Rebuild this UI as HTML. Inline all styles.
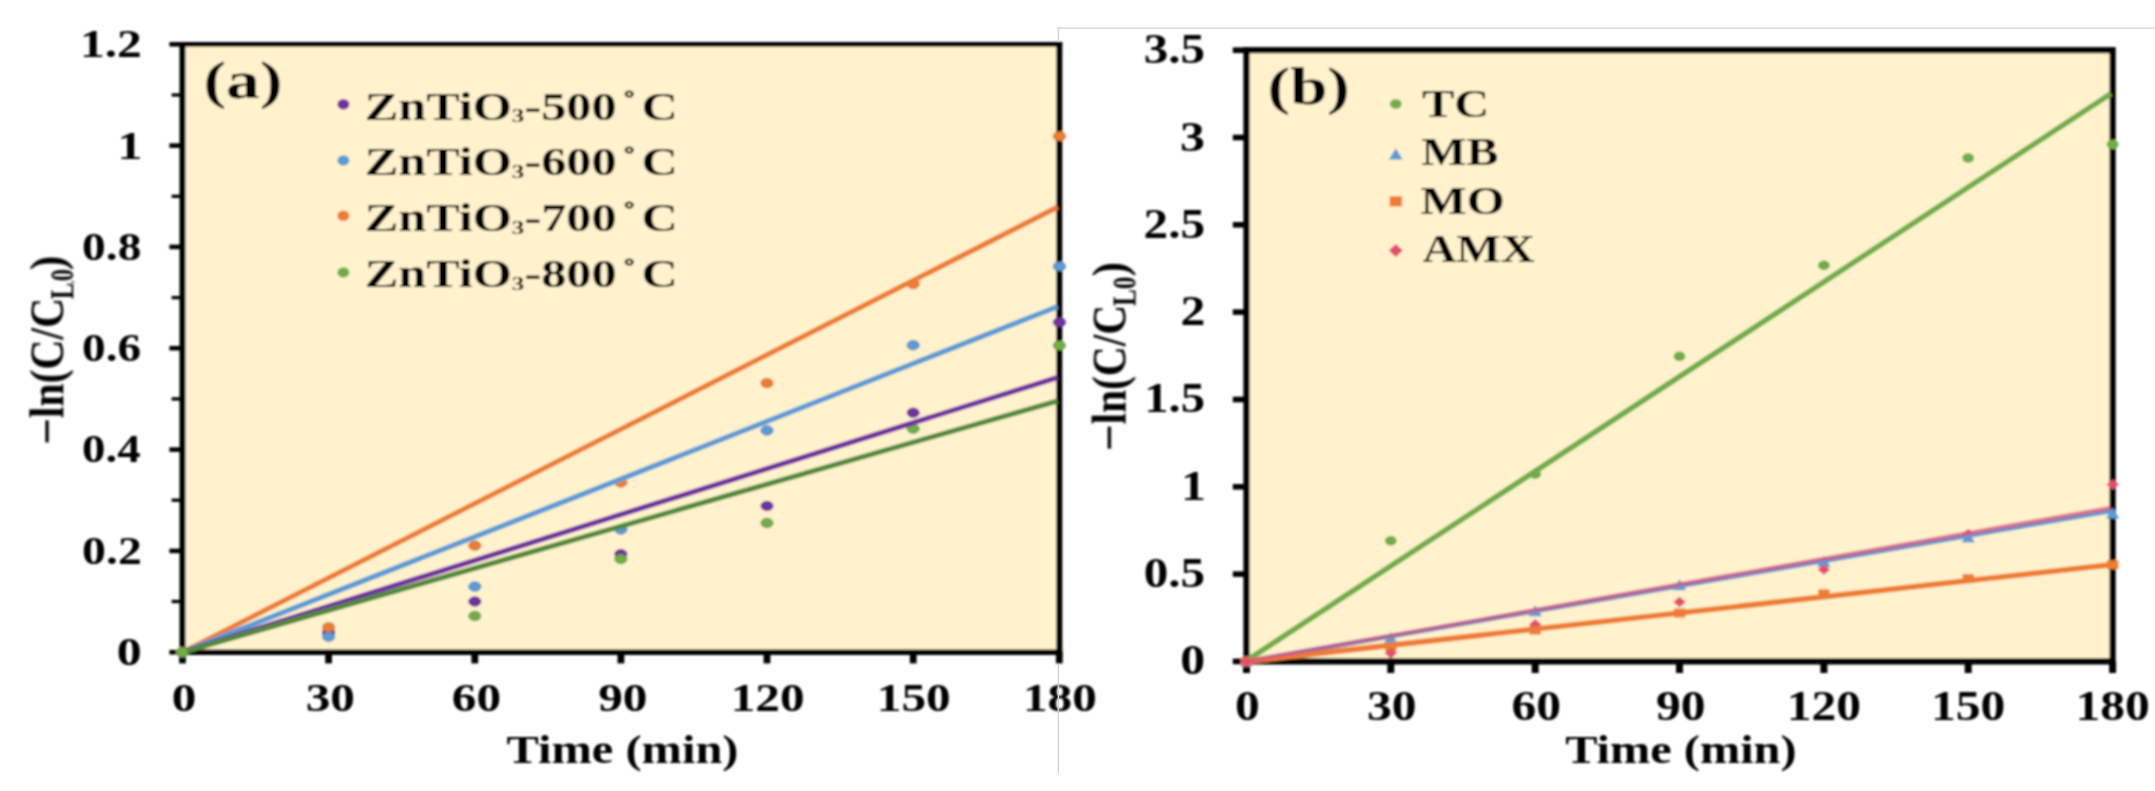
<!DOCTYPE html>
<html><head><meta charset="utf-8"><title>Kinetics plots</title>
<style>
html,body{margin:0;padding:0;background:#fff;}
body{width:2155px;height:791px;overflow:hidden;}
svg{display:block;}
svg text{font-family:"Liberation Serif",serif;font-weight:bold;fill:#000;}
</style></head><body>
<svg width="2155" height="791" viewBox="0 0 2155 791">
<defs><filter id="soft" x="0" y="0" width="2155" height="791" filterUnits="userSpaceOnUse"><feGaussianBlur stdDeviation="0.8"/></filter><filter id="soft2" x="0" y="0" width="2155" height="791" filterUnits="userSpaceOnUse"><feGaussianBlur stdDeviation="0.6"/></filter></defs>
<rect width="2155" height="791" fill="#fff"/>
<g filter="url(#soft)">
<rect x="182.5" y="44.3" width="876.8" height="607.9" fill="#FFF2CC"/>
<line x1="179.6" y1="44.3" x2="1062.2" y2="44.3" stroke="#000" stroke-width="4.8"/>
<line x1="179.6" y1="652.2" x2="1062.2" y2="652.2" stroke="#000" stroke-width="5.4"/>
<line x1="182.5" y1="42.1" x2="182.5" y2="654.7" stroke="#000" stroke-width="6.0"/>
<line x1="1059.3" y1="42.1" x2="1059.3" y2="654.7" stroke="#000" stroke-width="6.0"/>
<line x1="169.4" y1="652.2" x2="182.5" y2="652.2" stroke="#000" stroke-width="4.6"/>
<line x1="171.6" y1="601.5" x2="182.5" y2="601.5" stroke="#000" stroke-width="3.3"/>
<line x1="169.4" y1="550.9" x2="182.5" y2="550.9" stroke="#000" stroke-width="4.6"/>
<line x1="171.6" y1="500.2" x2="182.5" y2="500.2" stroke="#000" stroke-width="3.3"/>
<line x1="169.4" y1="449.6" x2="182.5" y2="449.6" stroke="#000" stroke-width="4.6"/>
<line x1="171.6" y1="398.9" x2="182.5" y2="398.9" stroke="#000" stroke-width="3.3"/>
<line x1="169.4" y1="348.2" x2="182.5" y2="348.2" stroke="#000" stroke-width="4.6"/>
<line x1="171.6" y1="297.6" x2="182.5" y2="297.6" stroke="#000" stroke-width="3.3"/>
<line x1="169.4" y1="246.9" x2="182.5" y2="246.9" stroke="#000" stroke-width="4.6"/>
<line x1="171.6" y1="196.3" x2="182.5" y2="196.3" stroke="#000" stroke-width="3.3"/>
<line x1="169.4" y1="145.6" x2="182.5" y2="145.6" stroke="#000" stroke-width="4.6"/>
<line x1="171.6" y1="95.0" x2="182.5" y2="95.0" stroke="#000" stroke-width="3.3"/>
<line x1="169.4" y1="44.3" x2="182.5" y2="44.3" stroke="#000" stroke-width="4.6"/>
<line x1="182.5" y1="652.2" x2="182.5" y2="663.4" stroke="#000" stroke-width="6.8"/>
<line x1="328.6" y1="652.2" x2="328.6" y2="663.4" stroke="#000" stroke-width="6.8"/>
<line x1="474.8" y1="652.2" x2="474.8" y2="663.4" stroke="#000" stroke-width="6.8"/>
<line x1="620.9" y1="652.2" x2="620.9" y2="663.4" stroke="#000" stroke-width="6.8"/>
<line x1="767.0" y1="652.2" x2="767.0" y2="663.4" stroke="#000" stroke-width="6.8"/>
<line x1="913.2" y1="652.2" x2="913.2" y2="663.4" stroke="#000" stroke-width="6.8"/>
<line x1="1059.3" y1="652.2" x2="1059.3" y2="663.4" stroke="#000" stroke-width="6.8"/>
<ellipse cx="182.5" cy="652.2" rx="6.1" ry="4.7" fill="#7030A0" stroke="#55207F" stroke-width="0.8"/>
<ellipse cx="328.6" cy="632.5" rx="6.1" ry="4.7" fill="#7030A0" stroke="#55207F" stroke-width="0.8"/>
<ellipse cx="474.8" cy="601.5" rx="6.1" ry="4.7" fill="#7030A0" stroke="#55207F" stroke-width="0.8"/>
<ellipse cx="620.9" cy="554.1" rx="6.1" ry="4.7" fill="#7030A0" stroke="#55207F" stroke-width="0.8"/>
<ellipse cx="767.0" cy="506.0" rx="6.1" ry="4.7" fill="#7030A0" stroke="#55207F" stroke-width="0.8"/>
<ellipse cx="913.2" cy="412.7" rx="6.1" ry="4.7" fill="#7030A0" stroke="#55207F" stroke-width="0.8"/>
<ellipse cx="1059.3" cy="322.3" rx="6.1" ry="4.7" fill="#7030A0" stroke="#55207F" stroke-width="0.8"/>
<ellipse cx="182.5" cy="652.2" rx="6.1" ry="4.7" fill="#5B9BD5" stroke="#3F74AD" stroke-width="0.8"/>
<ellipse cx="328.6" cy="636.7" rx="6.1" ry="4.7" fill="#5B9BD5" stroke="#3F74AD" stroke-width="0.8"/>
<ellipse cx="474.8" cy="586.6" rx="6.1" ry="4.7" fill="#5B9BD5" stroke="#3F74AD" stroke-width="0.8"/>
<ellipse cx="620.9" cy="529.5" rx="6.1" ry="4.7" fill="#5B9BD5" stroke="#3F74AD" stroke-width="0.8"/>
<ellipse cx="767.0" cy="430.5" rx="6.1" ry="4.7" fill="#5B9BD5" stroke="#3F74AD" stroke-width="0.8"/>
<ellipse cx="913.2" cy="345.2" rx="6.1" ry="4.7" fill="#5B9BD5" stroke="#3F74AD" stroke-width="0.8"/>
<ellipse cx="1059.3" cy="266.4" rx="6.1" ry="4.7" fill="#5B9BD5" stroke="#3F74AD" stroke-width="0.8"/>
<ellipse cx="182.5" cy="652.2" rx="6.1" ry="4.7" fill="#ED7D31" stroke="#B9642B" stroke-width="0.8"/>
<ellipse cx="328.6" cy="627.3" rx="6.1" ry="4.7" fill="#ED7D31" stroke="#B9642B" stroke-width="0.8"/>
<ellipse cx="474.8" cy="545.6" rx="6.1" ry="4.7" fill="#ED7D31" stroke="#B9642B" stroke-width="0.8"/>
<ellipse cx="620.9" cy="482.5" rx="6.1" ry="4.7" fill="#ED7D31" stroke="#B9642B" stroke-width="0.8"/>
<ellipse cx="767.0" cy="383.1" rx="6.1" ry="4.7" fill="#ED7D31" stroke="#B9642B" stroke-width="0.8"/>
<ellipse cx="913.2" cy="284.0" rx="6.1" ry="4.7" fill="#ED7D31" stroke="#B9642B" stroke-width="0.8"/>
<ellipse cx="1059.3" cy="136.3" rx="6.1" ry="4.7" fill="#ED7D31" stroke="#B9642B" stroke-width="0.8"/>
<ellipse cx="182.5" cy="652.2" rx="6.1" ry="4.7" fill="#70AD47" stroke="#548C35" stroke-width="0.8"/>
<ellipse cx="474.8" cy="616.0" rx="6.1" ry="4.7" fill="#70AD47" stroke="#548C35" stroke-width="0.8"/>
<ellipse cx="620.9" cy="559.0" rx="6.1" ry="4.7" fill="#70AD47" stroke="#548C35" stroke-width="0.8"/>
<ellipse cx="767.0" cy="523.0" rx="6.1" ry="4.7" fill="#70AD47" stroke="#548C35" stroke-width="0.8"/>
<ellipse cx="913.2" cy="428.7" rx="6.1" ry="4.7" fill="#70AD47" stroke="#548C35" stroke-width="0.8"/>
<ellipse cx="1059.3" cy="345.5" rx="6.1" ry="4.7" fill="#70AD47" stroke="#548C35" stroke-width="0.8"/>
<g filter="url(#soft2)">
<line x1="182.5" y1="652.2" x2="1057.5" y2="207.1" stroke="#ED7D31" stroke-width="5.2" stroke-linecap="butt"/>
<line x1="182.5" y1="652.2" x2="1057.5" y2="306.6" stroke="#5B9BD5" stroke-width="5.2" stroke-linecap="butt"/>
<line x1="182.5" y1="652.2" x2="1057.5" y2="377.4" stroke="#7030A0" stroke-width="5.2" stroke-linecap="butt"/>
<line x1="182.5" y1="652.2" x2="1057.5" y2="400.9" stroke="#52893A" stroke-width="5.2" stroke-linecap="butt"/>
</g>
<ellipse cx="182.5" cy="652.2" rx="4.8" ry="4.6" fill="#70AD47"/>
<ellipse cx="343.4" cy="104.3" rx="6" ry="5.2" fill="#7030A0"/>
<ellipse cx="343.4" cy="160.4" rx="6" ry="5.2" fill="#5B9BD5"/>
<ellipse cx="343.4" cy="215.7" rx="6" ry="5.2" fill="#ED7D31"/>
<ellipse cx="343.4" cy="272.4" rx="6" ry="5.2" fill="#70AD47"/>
<g class="t">
<text transform="translate(364.64 119.50) scale(1.2700 1.0000)" font-size="39.60">ZnTiO<tspan font-size="19.8" dy="2.6">3</tspan><tspan dy="-2.6">-500</tspan><tspan dx="5.9" dy="-14.8" font-size="20.6" stroke="#000" stroke-width="0.9">°</tspan><tspan dx="5.5" dy="14.8">C</tspan></text>
<text transform="translate(364.64 175.40) scale(1.2700 1.0000)" font-size="39.60">ZnTiO<tspan font-size="19.8" dy="2.6">3</tspan><tspan dy="-2.6">-600</tspan><tspan dx="5.9" dy="-14.8" font-size="20.6" stroke="#000" stroke-width="0.9">°</tspan><tspan dx="5.5" dy="14.8">C</tspan></text>
<text transform="translate(364.64 231.00) scale(1.2700 1.0000)" font-size="39.60">ZnTiO<tspan font-size="19.8" dy="2.6">3</tspan><tspan dy="-2.6">-700</tspan><tspan dx="5.9" dy="-14.8" font-size="20.6" stroke="#000" stroke-width="0.9">°</tspan><tspan dx="5.5" dy="14.8">C</tspan></text>
<text transform="translate(364.64 287.40) scale(1.2700 1.0000)" font-size="39.60">ZnTiO<tspan font-size="19.8" dy="2.6">3</tspan><tspan dy="-2.6">-800</tspan><tspan dx="5.9" dy="-14.8" font-size="20.6" stroke="#000" stroke-width="0.9">°</tspan><tspan dx="5.5" dy="14.8">C</tspan></text>
<text transform="translate(116.79 665.10) scale(1.2150 1.0000)" font-size="41.00">0</text>
<text transform="translate(82.08 563.78) scale(1.1653 1.0000)" font-size="41.00">0.2</text>
<text transform="translate(82.12 462.47) scale(1.1419 1.0000)" font-size="41.00">0.4</text>
<text transform="translate(82.10 361.15) scale(1.1525 1.0000)" font-size="41.00">0.6</text>
<text transform="translate(82.10 259.83) scale(1.1564 1.0000)" font-size="41.00">0.8</text>
<text transform="translate(117.43 158.52) scale(1.2150 1.0000)" font-size="41.00">1</text>
<text transform="translate(79.94 57.20) scale(1.2087 1.0000)" font-size="41.00">1.2</text>
<text transform="translate(171.80 711.00) scale(1.2000 1.0000)" font-size="41.00">0</text>
<text transform="translate(305.66 711.00) scale(1.2000 1.0000)" font-size="41.00">30</text>
<text transform="translate(451.87 711.00) scale(1.2000 1.0000)" font-size="41.00">60</text>
<text transform="translate(598.17 711.00) scale(1.2000 1.0000)" font-size="41.00">90</text>
<text transform="translate(730.70 711.00) scale(1.2000 1.0000)" font-size="41.00">120</text>
<text transform="translate(876.83 711.00) scale(1.2000 1.0000)" font-size="41.00">150</text>
<text transform="translate(1022.97 711.00) scale(1.2000 1.0000)" font-size="41.00">180</text>
<text transform="translate(506.47 762.60) scale(1.2122 1.0000)" font-size="40.00">Time (min)</text>
<text transform="translate(203.59 98.07) scale(1.2517 0.9759)" font-size="54.00">(a)</text>
<text transform="translate(63.30 442.60) rotate(-90)" x="-2.17" y="0"><tspan font-size="48.5" textLength="27.02" lengthAdjust="spacingAndGlyphs">−</tspan><tspan font-size="48.5" textLength="120.36" lengthAdjust="spacingAndGlyphs" dx="-0.45">ln(C/C</tspan><tspan font-size="33.0" textLength="16.35" lengthAdjust="spacingAndGlyphs" dx="-1.19" dy="10.0">L</tspan><tspan font-size="13.0" textLength="2.26" lengthAdjust="spacingAndGlyphs" dx="-0.45">,</tspan><tspan font-size="33.0" textLength="12.03" lengthAdjust="spacingAndGlyphs" dx="-0.26">0</tspan><tspan font-size="48.5" textLength="14.46" lengthAdjust="spacingAndGlyphs" dx="-0.90" dy="-10.0">)</tspan></text>
</g>
<rect x="1246.5" y="50.2" width="866.1" height="611.2" fill="#FFF2CC"/>
<rect x="1246.5" y="50.2" width="866.1" height="611.2" fill="none" stroke="#000" stroke-width="6.2"/>
<line x1="1232.8" y1="661.4" x2="1246.5" y2="661.4" stroke="#000" stroke-width="5.6"/>
<line x1="1232.8" y1="574.1" x2="1246.5" y2="574.1" stroke="#000" stroke-width="5.6"/>
<line x1="1232.8" y1="486.8" x2="1246.5" y2="486.8" stroke="#000" stroke-width="5.6"/>
<line x1="1232.8" y1="399.5" x2="1246.5" y2="399.5" stroke="#000" stroke-width="5.6"/>
<line x1="1232.8" y1="312.1" x2="1246.5" y2="312.1" stroke="#000" stroke-width="5.6"/>
<line x1="1232.8" y1="224.8" x2="1246.5" y2="224.8" stroke="#000" stroke-width="5.6"/>
<line x1="1232.8" y1="137.5" x2="1246.5" y2="137.5" stroke="#000" stroke-width="5.6"/>
<line x1="1232.8" y1="50.2" x2="1246.5" y2="50.2" stroke="#000" stroke-width="5.6"/>
<line x1="1246.5" y1="661.4" x2="1246.5" y2="673" stroke="#000" stroke-width="7.0"/>
<line x1="1390.8" y1="661.4" x2="1390.8" y2="673" stroke="#000" stroke-width="7.0"/>
<line x1="1535.2" y1="661.4" x2="1535.2" y2="673" stroke="#000" stroke-width="7.0"/>
<line x1="1679.5" y1="661.4" x2="1679.5" y2="673" stroke="#000" stroke-width="7.0"/>
<line x1="1823.9" y1="661.4" x2="1823.9" y2="673" stroke="#000" stroke-width="7.0"/>
<line x1="1968.2" y1="661.4" x2="1968.2" y2="673" stroke="#000" stroke-width="7.0"/>
<line x1="2112.6" y1="661.4" x2="2112.6" y2="673" stroke="#000" stroke-width="7.0"/>
<ellipse cx="1246.5" cy="661.4" rx="5.9" ry="4.8" fill="#70AD47"/>
<ellipse cx="1390.8" cy="540.8" rx="5.9" ry="4.8" fill="#70AD47"/>
<ellipse cx="1535.2" cy="474.2" rx="5.9" ry="4.8" fill="#70AD47"/>
<ellipse cx="1679.5" cy="356.4" rx="5.9" ry="4.8" fill="#70AD47"/>
<ellipse cx="1823.9" cy="265.3" rx="5.9" ry="4.8" fill="#70AD47"/>
<ellipse cx="1968.2" cy="158.0" rx="5.9" ry="4.8" fill="#70AD47"/>
<ellipse cx="2112.6" cy="144.4" rx="5.9" ry="4.8" fill="#70AD47"/>
<polygon points="1246.5,655.6 1239.8,666.6 1253.2,666.6" fill="#5B9BD5"/>
<polygon points="1390.8,631.9 1384.2,642.9 1397.5,642.9" fill="#5B9BD5"/>
<polygon points="1535.2,605.2 1528.5,616.2 1541.9,616.2" fill="#5B9BD5"/>
<polygon points="1679.5,579.2 1672.9,590.2 1686.2,590.2" fill="#5B9BD5"/>
<polygon points="1823.9,556.1 1817.2,567.1 1830.6,567.1" fill="#5B9BD5"/>
<polygon points="1968.2,531.6 1961.6,542.6 1974.9,542.6" fill="#5B9BD5"/>
<polygon points="2112.6,507.5 2105.9,518.5 2119.3,518.5" fill="#5B9BD5"/>
<rect x="1240.9" y="656.9" width="11.2" height="9.0" fill="#ED7D31"/>
<rect x="1385.2" y="642.7" width="11.2" height="9.0" fill="#ED7D31"/>
<rect x="1529.6" y="625.5" width="11.2" height="9.0" fill="#ED7D31"/>
<rect x="1674.0" y="608.5" width="11.2" height="9.0" fill="#ED7D31"/>
<rect x="1818.3" y="589.3" width="11.2" height="9.0" fill="#ED7D31"/>
<rect x="1962.7" y="574.1" width="11.2" height="9.0" fill="#ED7D31"/>
<rect x="2107.0" y="560.2" width="11.2" height="9.0" fill="#ED7D31"/>
<polygon points="1246.5,656.1 1252.7,661.4 1246.5,666.7 1240.3,661.4" fill="#E44D6E"/>
<polygon points="1390.8,648.0 1397.0,653.3 1390.8,658.6 1384.6,653.3" fill="#E44D6E"/>
<polygon points="1535.2,619.1 1541.4,624.4 1535.2,629.7 1529.0,624.4" fill="#E44D6E"/>
<polygon points="1679.5,596.7 1685.8,602.0 1679.5,607.3 1673.3,602.0" fill="#E44D6E"/>
<polygon points="1823.9,564.2 1830.1,569.5 1823.9,574.8 1817.7,569.5" fill="#E44D6E"/>
<polygon points="1968.2,528.7 1974.5,534.0 1968.2,539.3 1962.0,534.0" fill="#E44D6E"/>
<polygon points="2112.6,479.2 2118.8,484.5 2112.6,489.8 2106.4,484.5" fill="#E44D6E"/>
<g filter="url(#soft2)">
<line x1="1246.5" y1="660.6" x2="2110.8" y2="93.8" stroke="#70AD47" stroke-width="5.5"/>
<line x1="1246.5" y1="661.4" x2="2110.8" y2="510.9" stroke="#5B9BD5" stroke-width="4.8"/>
<line x1="1246.5" y1="661.4" x2="2110.8" y2="564.7" stroke="#ED7D31" stroke-width="5.6"/>
<line x1="1246.5" y1="661.4" x2="2110.8" y2="508.0" stroke="#D4547F" stroke-width="4.6" stroke-opacity="0.72"/>
</g>
<polygon points="1246.5,656.1 1252.7,661.4 1246.5,666.7 1240.3,661.4" fill="#E44D6E"/>
<ellipse cx="1395.8" cy="104.0" rx="5.9" ry="4.8" fill="#70AD47"/>
<polygon points="1395.8,148.2 1388.9,159.6 1402.7,159.6" fill="#5B9BD5"/>
<rect x="1389.7" y="196.3" width="12.2" height="10.2" fill="#ED7D31"/>
<polygon points="1395.8,244.1 1402.8,250.5 1395.8,256.9 1388.8,250.5" fill="#E44D6E"/>
<g class="t">
<text transform="translate(1422.07 117.00) scale(1.2096 1.0000)" font-size="40.00">TC</text>
<text transform="translate(1421.19 165.00) scale(1.1981 1.0000)" font-size="40.00">MB</text>
<text transform="translate(1420.57 214.20) scale(1.2228 1.0000)" font-size="40.00">MO</text>
<text transform="translate(1422.38 261.60) scale(1.1772 1.0000)" font-size="40.00">AMX</text>
<text transform="translate(1180.29 674.40) scale(1.2000 1.0000)" font-size="41.50">0</text>
<text transform="translate(1143.74 587.09) scale(1.1823 1.0000)" font-size="41.50">0.5</text>
<text transform="translate(1180.94 499.77) scale(1.2000 1.0000)" font-size="41.50">1</text>
<text transform="translate(1144.31 412.46) scale(1.1708 1.0000)" font-size="41.50">1.5</text>
<text transform="translate(1180.49 325.14) scale(1.2000 1.0000)" font-size="41.50">2</text>
<text transform="translate(1143.53 237.83) scale(1.1863 1.0000)" font-size="41.50">2.5</text>
<text transform="translate(1180.09 150.51) scale(1.2000 1.0000)" font-size="41.50">3</text>
<text transform="translate(1143.79 63.20) scale(1.1813 1.0000)" font-size="41.50">3.5</text>
<text transform="translate(1235.11 720.40) scale(1.2000 1.0000)" font-size="41.30">0</text>
<text transform="translate(1367.09 720.40) scale(1.2000 1.0000)" font-size="41.30">30</text>
<text transform="translate(1511.52 720.40) scale(1.2000 1.0000)" font-size="41.30">60</text>
<text transform="translate(1656.04 720.40) scale(1.2000 1.0000)" font-size="41.30">90</text>
<text transform="translate(1786.69 720.40) scale(1.2000 1.0000)" font-size="41.30">120</text>
<text transform="translate(1931.04 720.40) scale(1.2000 1.0000)" font-size="41.30">150</text>
<text transform="translate(2075.39 720.40) scale(1.2000 1.0000)" font-size="41.30">180</text>
<text transform="translate(1565.17 763.10) scale(1.2090 1.0000)" font-size="40.00">Time (min)</text>
<text transform="translate(1267.50 104.02) scale(1.2471 0.9637)" font-size="54.00">(b)</text>
<text transform="translate(1125.60 448.90) rotate(-90)" x="-2.17" y="0"><tspan font-size="48.5" textLength="27.02" lengthAdjust="spacingAndGlyphs">−</tspan><tspan font-size="48.5" textLength="119.74" lengthAdjust="spacingAndGlyphs" dx="-0.45">ln(C/C</tspan><tspan font-size="33.0" textLength="29.28" lengthAdjust="spacingAndGlyphs" dx="-1.08" dy="10.0">L0</tspan><tspan font-size="48.5" textLength="14.46" lengthAdjust="spacingAndGlyphs" dx="0.16" dy="-10.0">)</tspan></text>
</g>
</g>
<line x1="1057.7" y1="28.1" x2="2155" y2="28.1" stroke="#d2d2d2" stroke-width="1.3"/>
<line x1="1058.35" y1="27.5" x2="1058.35" y2="42" stroke="#d2d2d2" stroke-width="1.3"/>
<line x1="1058.35" y1="664" x2="1058.35" y2="774" stroke="#d2d2d2" stroke-width="1.3"/>
</svg>
</body></html>
